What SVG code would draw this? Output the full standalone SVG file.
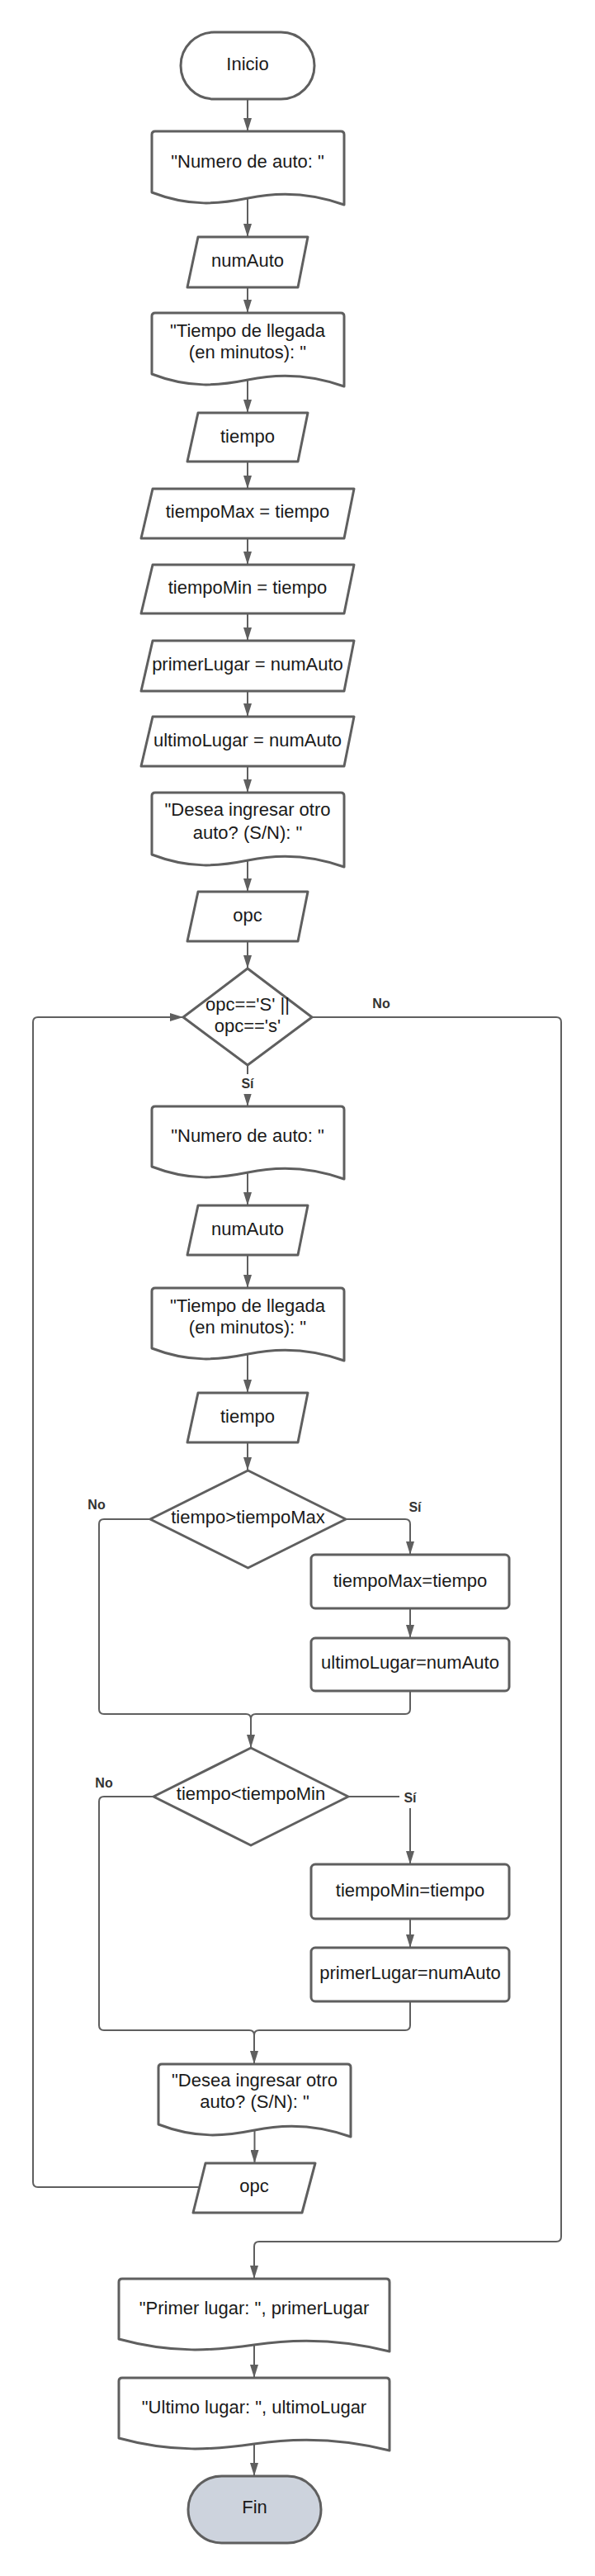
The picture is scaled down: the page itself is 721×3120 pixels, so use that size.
<svg xmlns="http://www.w3.org/2000/svg" width="721" height="3120" viewBox="0 0 721 3120">
<style>
.n{fill:#fff;stroke:#5f5f5f;stroke-width:3;stroke-linejoin:round}
.f{fill:#cdd3dd}
.t{font-family:"Liberation Sans",Arial,sans-serif;font-size:22px;fill:#1a1a1a;text-anchor:middle}
.c{fill:none;stroke:#5f5f5f;stroke-width:2}
.a{marker-end:url(#ah)}
.l{font-family:"Liberation Sans",Arial,sans-serif;font-size:16px;font-weight:bold;fill:#333;text-anchor:middle}
.bg{fill:#fff}
</style>
<defs>
<marker id="ah" viewBox="0 0 16 10" refX="16" refY="5" markerWidth="16" markerHeight="10" markerUnits="userSpaceOnUse" orient="auto"><path d="M0,0 L16,5 L0,10 z" fill="#5f5f5f"/></marker>
</defs>
<rect width="721" height="3120" fill="#fff"/>
<g id="connectors">
<path class="c a" d="M300,120 V159"/>
<path class="c a" d="M300,240 V287"/>
<path class="c a" d="M300,348 V379"/>
<path class="c a" d="M300,460 V500"/>
<path class="c a" d="M300,559 V592"/>
<path class="c a" d="M300,652 V684"/>
<path class="c a" d="M300,743 V776"/>
<path class="c a" d="M300,837 V868"/>
<path class="c a" d="M300,928 V960"/>
<path class="c a" d="M300,1042 V1080"/>
<path class="c a" d="M300,1140 V1173"/>
<path class="c a" d="M300,1290 V1340"/>
<path class="c a" d="M378,1232 H674 Q680,1232 680,1238 V2709 Q680,2715 674,2715 H314 Q308,2715 308,2721 V2760"/>
<path class="c a" d="M300,1420 V1460"/>
<path class="c a" d="M300,1520 V1560"/>
<path class="c a" d="M300,1640 V1687"/>
<path class="c a" d="M300,1747 V1781"/>
<path class="c a" d="M182,1840 H126 Q120,1840 120,1846 V2070 Q120,2076 126,2076 H298 Q304,2076 304,2082 V2117"/>
<path class="c a" d="M419,1840 H491 Q497,1840 497,1846 V1883"/>
<path class="c a" d="M497,1948 V1984"/>
<path class="c" d="M497,2048 V2070 Q497,2076 491,2076 H310 Q304,2076 304,2082"/>
<path class="c a" d="M186,2176 H126 Q120,2176 120,2182 V2453 Q120,2459 126,2459 H302 Q308,2459 308,2465 V2500"/>
<path class="c a" d="M422,2176 H491 Q497,2176 497,2182 V2258"/>
<path class="c a" d="M497,2324 V2359"/>
<path class="c" d="M497,2424 V2453 Q497,2459 491,2459 H314 Q308,2459 308,2465"/>
<path class="c a" d="M308.5,2580 V2620"/>
<path class="c a" d="M242,2649 H46 Q40,2649 40,2643 V1238 Q40,1232 46,1232 H222"/>
<path class="c a" d="M308,2840 V2880"/>
<path class="c a" d="M308,2960 V2999"/>
<text class="l" x="462" y="1221">No</text>
<rect class="bg" x="288" y="1301" width="24" height="24"/>
<text class="l" x="300" y="1318">Sí</text>
<text class="l" x="117" y="1828">No</text>
<text class="l" x="503" y="1831">Sí</text>
<text class="l" x="126" y="2165">No</text>
<rect class="bg" x="484" y="2166" width="26" height="24"/>
<text class="l" x="497" y="2183">Sí</text>
</g>
<g id="inicio"><rect class="n" x="219" y="39" width="162" height="81" rx="40.5"/><text class="t" x="300" y="85">Inicio</text></g>
<g id="out1"><path class="n" d="M184,163 Q184,159 188,159 H413 Q417,159 417,163 V248 C370.4,231 328.5,234 300.5,240 C265.6,247 230.6,251 184,233 Z"/><text class="t" x="300" y="203">"Numero de auto: "</text></g>
<g id="in1"><polygon class="n" points="240,287 373,287 361,348 227,348"/><text class="t" x="300" y="323">numAuto</text></g>
<g id="out2"><path class="n" d="M184,383 Q184,379 188,379 H413 Q417,379 417,383 V468 C370.4,451 328.5,454 300.5,460 C265.6,467 230.6,471 184,453 Z"/><text class="t" x="300" y="408">"Tiempo de llegada</text><text class="t" x="300" y="434">(en minutos): "</text></g>
<g id="in2"><polygon class="n" points="240,500 373,500 361,559 227,559"/><text class="t" x="300" y="536">tiempo</text></g>
<g id="p1"><polygon class="n" points="185,592 429,592 417,652 171,652"/><text class="t" x="300" y="627">tiempoMax = tiempo</text></g>
<g id="p2"><polygon class="n" points="185,684 429,684 417,743 171,743"/><text class="t" x="300" y="719">tiempoMin = tiempo</text></g>
<g id="p3"><polygon class="n" points="185,776 429,776 417,837 171,837"/><text class="t" x="300" y="812">primerLugar = numAuto</text></g>
<g id="p4"><polygon class="n" points="185,868 429,868 417,928 171,928"/><text class="t" x="300" y="904">ultimoLugar = numAuto</text></g>
<g id="out3"><path class="n" d="M184,964 Q184,960 188,960 H413 Q417,960 417,964 V1050 C370.4,1033 328.5,1036 300.5,1042 C265.6,1049 230.6,1053 184,1035 Z"/><text class="t" x="300" y="988">"Desea ingresar otro</text><text class="t" x="300" y="1016">auto? (S/N): "</text></g>
<g id="in3"><polygon class="n" points="240,1080 373,1080 361,1140 227,1140"/><text class="t" x="300" y="1116">opc</text></g>
<g id="d1"><polygon class="n" points="300,1173 378,1232 300,1290 222,1232"/><text class="t" x="300" y="1224">opc=='S' ||</text><text class="t" x="300" y="1250">opc=='s'</text></g>
<g id="out4"><path class="n" d="M184,1344 Q184,1340 188,1340 H413 Q417,1340 417,1344 V1428 C370.4,1411 328.5,1414 300.5,1420 C265.6,1427 230.6,1431 184,1413 Z"/><text class="t" x="300" y="1383">"Numero de auto: "</text></g>
<g id="in4"><polygon class="n" points="240,1460 373,1460 361,1520 227,1520"/><text class="t" x="300" y="1496">numAuto</text></g>
<g id="out5"><path class="n" d="M184,1564 Q184,1560 188,1560 H413 Q417,1560 417,1564 V1648 C370.4,1631 328.5,1634 300.5,1640 C265.6,1647 230.6,1651 184,1633 Z"/><text class="t" x="300" y="1589">"Tiempo de llegada</text><text class="t" x="300" y="1615">(en minutos): "</text></g>
<g id="in5"><polygon class="n" points="240,1687 373,1687 361,1747 227,1747"/><text class="t" x="300" y="1723">tiempo</text></g>
<g id="d2"><polygon class="n" points="300.5,1781 419,1840 300.5,1899 182,1840"/><text class="t" x="300.5" y="1845">tiempo&gt;tiempoMax</text></g>
<g id="b1"><rect class="n" x="377" y="1883" width="240" height="65" rx="5"/><text class="t" x="497" y="1922">tiempoMax=tiempo</text></g>
<g id="b2"><rect class="n" x="377" y="1984" width="240" height="64" rx="5"/><text class="t" x="497" y="2021">ultimoLugar=numAuto</text></g>
<g id="d3"><polygon class="n" points="304,2117 422,2176 304,2235 186,2176"/><text class="t" x="304" y="2180">tiempo&lt;tiempoMin</text></g>
<g id="b3"><rect class="n" x="377" y="2258" width="240" height="66" rx="5"/><text class="t" x="497" y="2297">tiempoMin=tiempo</text></g>
<g id="b4"><rect class="n" x="377" y="2359" width="240" height="65" rx="5"/><text class="t" x="497" y="2397">primerLugar=numAuto</text></g>
<g id="out6"><path class="n" d="M192,2504 Q192,2500 196,2500 H421 Q425,2500 425,2504 V2588 C378.4,2571 336.5,2574 308.5,2580 C273.6,2587 238.6,2591 192,2573 Z"/><text class="t" x="308.5" y="2527">"Desea ingresar otro</text><text class="t" x="308.5" y="2553">auto? (S/N): "</text></g>
<g id="in6"><polygon class="n" points="249,2620 382,2620 366,2680 234,2680"/><text class="t" x="308" y="2655">opc</text></g>
<g id="out7"><path class="n" d="M144,2764 Q144,2760 148,2760 H468 Q472,2760 472,2764 V2848 C406.4,2831 347.4,2834 308,2840 C258.8,2847 209.6,2851 144,2833 Z"/><text class="t" x="308" y="2803">"Primer lugar: ", primerLugar</text></g>
<g id="out8"><path class="n" d="M144,2884 Q144,2880 148,2880 H468 Q472,2880 472,2884 V2968 C406.4,2951 347.4,2954 308,2960 C258.8,2967 209.6,2971 144,2953 Z"/><text class="t" x="308" y="2923">"Ultimo lugar: ", ultimoLugar</text></g>
<g id="fin"><rect class="n f" x="228" y="2999" width="161" height="81" rx="40.5"/><text class="t" x="308.5" y="3044">Fin</text></g>
</svg>
